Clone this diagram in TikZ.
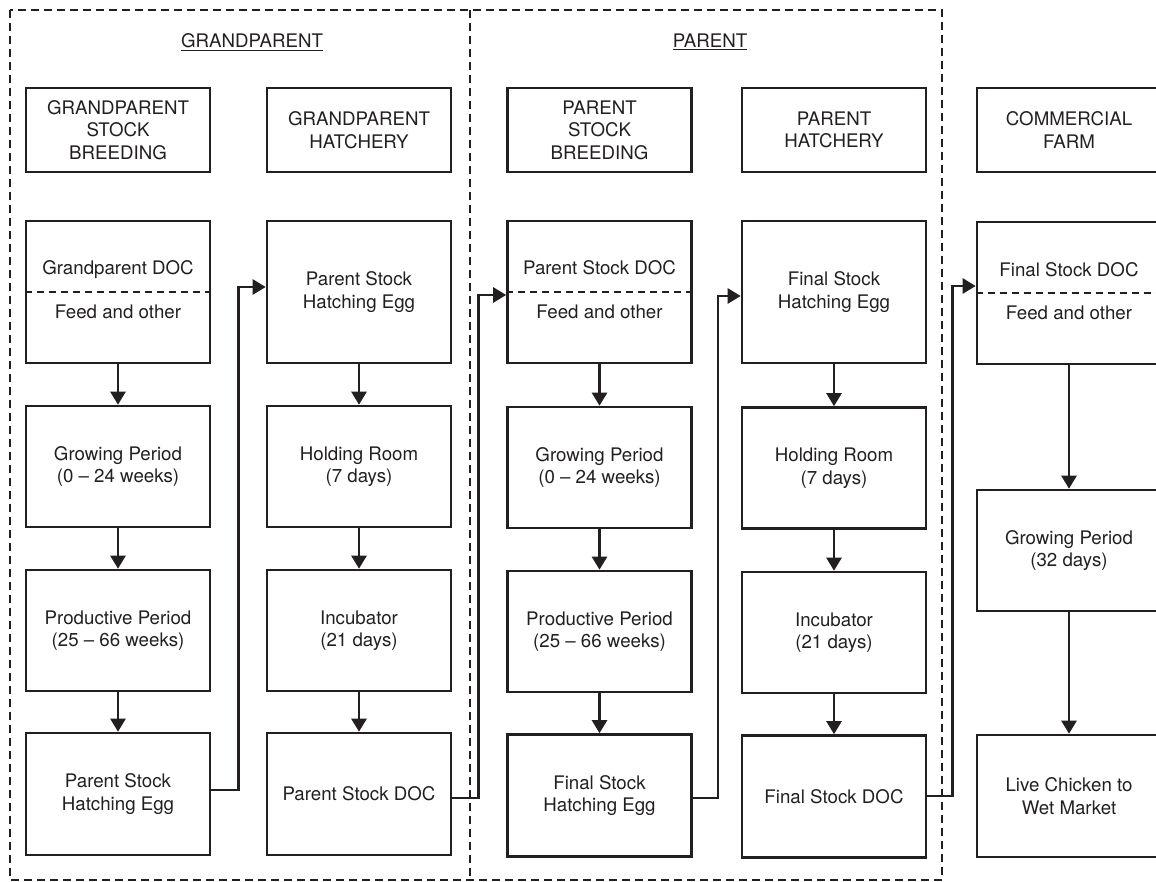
\documentclass[tikz,border=0pt]{standalone}
\usepackage{fontspec}
\setmainfont{TeX Gyre Heros}
\usetikzlibrary{arrows.meta}
\definecolor{ink}{HTML}{231F20}
\begin{document}
\begin{tikzpicture}[x=1pt,y=-1pt,
  every node/.style={font=\fontsize{18.7}{22.5}\selectfont, text=ink},
  blk/.style={draw=ink, line width=2.6pt, minimum width=184pt, align=center, inner sep=0pt},
  arr/.style={draw=ink, line width=2.5pt, -{Triangle[length=13pt,width=15pt]}},
  group/.style={draw=ink, line width=2.5pt, dash pattern=on 8pt off 5pt},
  split/.style={draw=ink, line width=1.6pt, dash pattern=on 7pt off 5pt},
  hdr/.style={blk, minimum height=84pt},
  r1/.style={blk, minimum height=142pt},
  r2/.style={blk, minimum height=121pt},
  r4/.style={blk, minimum height=122pt},
  lbl/.style={anchor=base, inner sep=0pt}
]
\useasboundingbox (0,0) rectangle (1156,882);
\clip (0,0) rectangle (1156,882);

% group frames
\draw[group] (10,10) rectangle (942,880);
\draw[group] (470,10) -- (470,880);

% titles
\node[lbl] (tgp) at (252,48) {\underline{GRANDPARENT}};
\node[lbl] (tp) at (710,48) {\underline{PARENT}};

% header boxes
\node[hdr] (h1) at (118,130) {GRANDPARENT\\STOCK\\BREEDING};
\node[hdr] (h2) at (359,130) {GRANDPARENT\\HATCHERY};
\node[hdr] (h3) at (599.5,130) {PARENT\\STOCK\\BREEDING};
\node[hdr] (h4) at (834,130) {PARENT\\HATCHERY};
\node[hdr] (h5) at (1069,130) {COMMERCIAL\\FARM};

% row 1
\node[r1] (a1) at (118,292) {};
\node[r1] (b1) at (359,292) {Parent Stock\\Hatching Egg};
\node[r1] (c1) at (599.5,292) {};
\node[r1] (d1) at (834,292) {Final Stock\\Hatching Egg};
\node[r1] (e1) at (1069,293) {};

\draw[split] (a1.west) -- (a1.east);
\draw[split] (c1.west) -- (c1.east);
\draw[split] (e1.west) -- (e1.east);
\node[lbl] (a1t) at ([yshift=17pt]a1.center) {Grandparent DOC};
\node[lbl] (a1b) at ([yshift=-27pt]a1.center) {Feed and other};
\node[lbl] (c1t) at ([yshift=17pt]c1.center) {Parent Stock DOC};
\node[lbl] (c1b) at ([yshift=-27pt]c1.center) {Feed and other};
\node[lbl] (e1t) at ([yshift=16pt]e1.center) {Final Stock DOC};
\node[lbl] (e1b) at ([yshift=-27pt]e1.center) {Feed and other};

% row 2
\node[r2] (a2) at (118,466.5) {Growing Period\\(0 – 24 weeks)};
\node[r2] (b2) at (359,466.5) {Holding Room\\(7 days)};
\node[r2] (c2) at (599.5,467.5) {Growing Period\\(0 – 24 weeks)};
\node[r2] (d2) at (834,468) {Holding Room\\(7 days)};

% row 3
\node[r2] (a3) at (118,630.5) {Productive Period\\(25 – 66 weeks)};
\node[r2] (b3) at (359,630.5) {Incubator\\(21 days)};
\node[r2] (c3) at (599.5,631.5) {Productive Period\\(25 – 66 weeks)};
\node[r2] (d3) at (834,632.5) {Incubator\\(21 days)};

% row 4
\node[r4] (a4) at (118,794) {Parent Stock\\Hatching Egg};
\node[r4] (b4) at (359,794) {Parent Stock DOC};
\node[r4] (c4) at (599.5,795.5) {Final Stock\\Hatching Egg};
\node[r4] (d4) at (834,796.5) {Final Stock DOC};

% commercial column
\node[r2] (e2) at (1069,550.5) {Growing Period\\(32 days)};
\node[r4] (e3) at (1069,796) {Live Chicken to\\Wet Market};

% vertical arrows
\foreach \c in {a,b,c,d}{
  \draw[arr] (\c1.south) -- (\c2.north);
  \draw[arr] (\c2.south) -- (\c3.north);
  \draw[arr] (\c3.south) -- (\c4.north);
}
\draw[arr] (e1.south) -- (e2.north);
\draw[arr] (e2.south) -- (e3.north);

% elbow connectors
\draw[arr] ([yshift=4pt]a4.east) -- ++(27,0) |- ([yshift=5pt]b1.west);
\draw[arr] ([yshift=-4pt]b4.east) -- ++(26,0) |- ([yshift=-3pt]c1.west);
\draw[arr] ([yshift=-2.5pt]c4.east) -- ++(25,0) |- ([yshift=-4pt]d1.west);
\draw[arr] ([yshift=0.5pt]d4.east) -- ++(25,0) |- ([yshift=7pt]e1.west);
\end{tikzpicture}
\end{document}
